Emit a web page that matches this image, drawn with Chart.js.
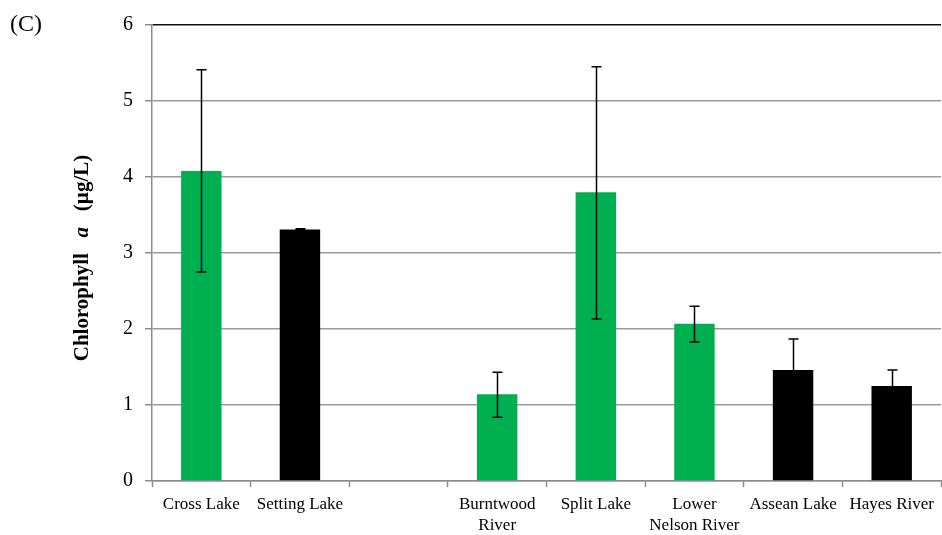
<!DOCTYPE html>
<html>
<head>
<meta charset="utf-8">
<script src="https://cdn.jsdelivr.net/npm/chart.js@4/dist/chart.umd.min.js"></script>
<style>
  html, body { margin: 0; padding: 0; background: #fff; }
  #wrap { width: 942px; height: 535px; position: relative; }
</style>
</head>
<body>
<div id="wrap"><canvas id="chart" width="942" height="535"></canvas></div>
<script>
// Sites along the x axis (the third slot is a deliberate gap)
const categories = ['Cross Lake', 'Setting Lake', '', ['Burntwood', 'River'], 'Split Lake', ['Lower', 'Nelson River'], 'Assean Lake', 'Hayes River'];
// Mean chlorophyll a (µg/L)
const chlValues = [4.08, 3.31, null, 1.14, 3.80, 2.07, 1.46, 1.25];
// Error bar limits (µg/L)
const errUpper = [5.41, 3.32, null, 1.43, 5.45, 2.30, 1.87, 1.46];
const errLower = [2.75, 3.30, null, 0.84, 2.13, 1.83, 1.05, 1.05];
// Site group: 'g' green, 'k' black
const siteGroup = ['g', 'k', null, 'g', 'g', 'g', 'k', 'k'];
const yTicks = [0, 1, 2, 3, 4, 5, 6];

const GREEN = '#00B050';
const BLACK = '#000000';
const SERIF = '"Liberation Serif", "Times New Roman", serif';

const errorBars = {
  id: 'errorBars',
  afterDatasetsDraw(chart) {
    const { ctx, scales: { y } } = chart;
    const meta = chart.getDatasetMeta(0);
    ctx.save();
    ctx.strokeStyle = '#000';
    ctx.lineWidth = 1.5;
    meta.data.forEach((bar, i) => {
      if (errUpper[i] == null || errLower[i] == null) return;
      const x = Math.round(bar.x) + 0.5;
      const yHi = y.getPixelForValue(errUpper[i]);
      const yLo = y.getPixelForValue(errLower[i]);
      ctx.beginPath();
      ctx.moveTo(x, yHi); ctx.lineTo(x, yLo);
      ctx.moveTo(x - 5, yHi); ctx.lineTo(x + 5, yHi);
      ctx.moveTo(x - 5, yLo); ctx.lineTo(x + 5, yLo);
      ctx.stroke();
    });
    ctx.restore();
  }
};

const annotations = {
  id: 'annotations',
  afterDraw(chart) {
    const { ctx, chartArea } = chart;
    ctx.save();
    // Panel letter
    ctx.fillStyle = '#000';
    ctx.font = '24px ' + SERIF;
    ctx.textBaseline = 'alphabetic';
    ctx.textAlign = 'left';
    ctx.fillText('(C)', 10, 31);
    // Y axis title with italic "a"
    const parts = [
      { t: 'Chlorophyll', f: 'bold 21px ' + SERIF },
      { t: '   ', f: 'bold 21px ' + SERIF },
      { t: 'a', f: 'bold italic 21px ' + SERIF },
      { t: '   ', f: 'bold 21px ' + SERIF },
      { t: '(µg/L)', f: 'bold 21px ' + SERIF }
    ];
    let total = 0;
    parts.forEach(p => { ctx.font = p.f; p.w = ctx.measureText(p.t).width; total += p.w; });
    const cy = (chartArea.top + chartArea.bottom) / 2 + 5;
    ctx.translate(88, cy);
    ctx.rotate(-Math.PI / 2);
    ctx.textBaseline = 'alphabetic';
    let x = -total / 2;
    parts.forEach(p => { ctx.font = p.f; ctx.fillText(p.t, x, 0); x += p.w; });
    ctx.restore();
  }
};

new Chart(document.getElementById('chart'), {
  type: 'bar',
  data: {
    labels: categories,
    datasets: [{
      data: chlValues,
      backgroundColor: siteGroup.map(g => g === 'k' ? BLACK : GREEN),
      borderWidth: 0,
      barPercentage: 0.41,
      categoryPercentage: 1.0
    }]
  },
  options: {
    responsive: false,
    animation: false,
    devicePixelRatio: 1,
    layout: { padding: { top: 25, right: 1, left: 0, bottom: 0 } },
    plugins: { legend: { display: false }, tooltip: { enabled: false }, title: { display: false } },
    scales: {
      x: {
        offset: true,
        grid: {
          offset: true,
          drawOnChartArea: false,
          drawTicks: true,
          tickLength: 6,
          tickColor: '#8c8c8c',
          tickWidth: 1.5
        },
        border: { color: '#8c8c8c', width: 1.5 },
        ticks: {
          color: '#000',
          font: { family: SERIF, size: 17, lineHeight: 1.22 },
          padding: 7,
          maxRotation: 0,
          autoSkip: false
        },
        afterFit(scale) { scale.height = 54; }
      },
      y: {
        min: 0,
        max: 6,
        afterBuildTicks(scale) { scale.ticks = yTicks.map(v => ({ value: v })); },
        grid: {
          color: c => (c.tick && c.tick.value === 6) ? '#111' : '#9a9a9a',
          lineWidth: 1.5,
          tickLength: 7,
          tickColor: '#8c8c8c'
        },
        border: { color: '#8c8c8c', width: 1.5 },
        ticks: {
          color: '#000',
          font: { family: SERIF, size: 20 },
          padding: 12
        },
        afterFit(scale) { scale.width = 152; }
      }
    }
  },
  plugins: [errorBars, annotations]
});
</script>
</body>
</html>
